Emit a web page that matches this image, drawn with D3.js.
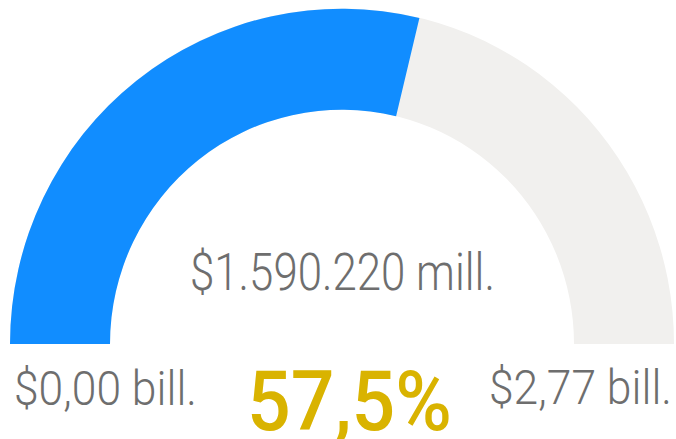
<!DOCTYPE html>
<html>
<head>
<meta charset="utf-8">
<script src="https://cdn.jsdelivr.net/npm/d3@7"></script>
<style>
  body { margin: 0; background: #fff; }
  text { font-family: "Roboto", "DejaVu Sans Condensed", sans-serif; }
</style>
</head>
<body>
<script>
// gauge values (in mill.)
var minValue = 0;
var maxValue = 2766000;
var gaugeValue = 1590220;
var valueLabels = ["$1.590.220 mill."];
var rangeLabels = ["$0,00 bill.", "$2,77 bill."];

var width = 676;
var height = 439;

var svg = d3.select("body").append("svg")
  .attr("width", width)
  .attr("height", height);

var cx = 342, cy = 344;
var outerR = 332, innerR = 232;

var angle = d3.scaleLinear()
  .domain([minValue, maxValue])
  .range([-Math.PI / 2, Math.PI / 2]);

var arc = d3.arc()
  .innerRadius(innerR)
  .outerRadius(outerR);

var g = svg.append("g")
  .attr("transform", "translate(" + cx + "," + cy + ") scale(1,1.01)");

// background track
g.append("path")
  .attr("d", arc({startAngle: angle(minValue), endAngle: angle(maxValue)}))
  .attr("fill", "#f1f0ee");

// value arc
g.append("path")
  .attr("d", arc({startAngle: angle(minValue), endAngle: angle(gaugeValue)}))
  .attr("fill", "#118dff");

// squeeze a label horizontally so it fits the given width (narrow DIN-like look)
function label(txt, x, y, w, size, weight, color) {
  var t = svg.append("text")
    .style("font-size", size + "px")
    .style("font-weight", weight)
    .style("fill", color)
    .text(txt);
  var nat = t.node().getComputedTextLength();
  t.attr("transform", "translate(" + x + "," + y + ") scale(" + (w / nat) + ",1)");
  return t;
}

// center value
label(valueLabels[0], 190, 290, 305, 52, 300, "#6e6e6e");

// min / max labels
label(rangeLabels[0], 14, 405, 183, 49, 300, "#6e6e6e");
label(rangeLabels[1], 489, 404, 183, 49, 300, "#6e6e6e");

// percentage
var pct = gaugeValue / (maxValue - minValue) * 100;
label(pct.toFixed(1).replace(".", ",") + "%", 247, 430, 205, 84, 500, "#d9b300");
</script>
</body>
</html>
